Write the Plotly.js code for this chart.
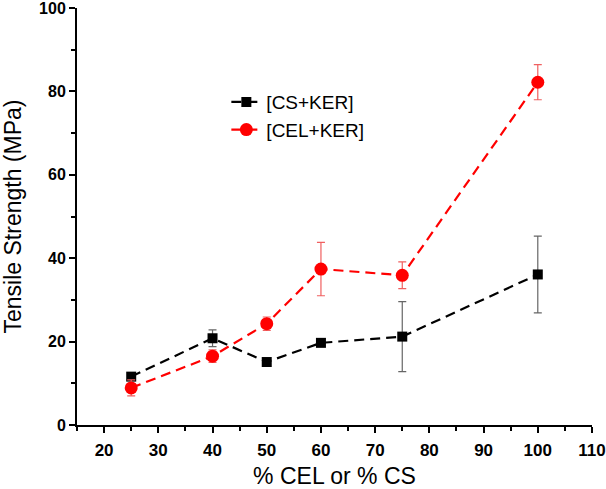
<!DOCTYPE html>
<html><head><meta charset="utf-8">
<script src="https://cdn.plot.ly/plotly-3.0.1.min.js"></script>
<style>body{margin:0;padding:0;background:#fff}#chart{width:606px;height:489px}</style>
</head><body><div id="chart"></div>
<script>
const xVals = [25, 40, 50, 60, 75, 100];
const csKer = [11.6, 20.8, 15.1, 19.7, 21.2, 36.1];
const csKerErr = [0.8, 2.0, 0.5, 0.6, 8.4, 9.2];
const celKer = [8.9, 16.5, 24.3, 37.4, 35.9, 82.2];
const celKerErr = [1.9, 1.5, 1.6, 6.4, 3.2, 4.2];
const seriesNames = ['[CS+KER]', '[CEL+KER]'];
const yTicks = [0, 20, 40, 60, 80, 100];

const traces = [
  {x: xVals, y: csKer, name: seriesNames[0], type: 'scatter', mode: 'lines+markers',
   line: {color: '#000', width: 2.2, dash: '10px,6px'},
   marker: {symbol: 'square', size: 10, color: '#000'},
   error_y: {type: 'data', array: csKerErr, visible: true, color: '#666', thickness: 1.2, width: 4}},
  {x: xVals, y: celKer, name: seriesNames[1], type: 'scatter', mode: 'lines+markers',
   line: {color: '#ff0000', width: 2.2, dash: '10px,6px'},
   marker: {symbol: 'circle', size: 13, color: '#ff0000'},
   error_y: {type: 'data', array: celKerErr, visible: true, color: '#f06060', thickness: 1.2, width: 4}}
];

const layout = {
  width: 606, height: 489,
  margin: {l: 77, r: 14, t: 8, b: 64},
  paper_bgcolor: '#fff', plot_bgcolor: '#fff',
  font: {family: 'Liberation Sans, Arial, sans-serif', color: '#000'},
  showlegend: true,
  legend: {x: 0.29, y: 0.82, xanchor: 'left', yanchor: 'top', bgcolor: 'rgba(0,0,0,0)',
           font: {size: 19, family: 'Liberation Sans, Arial, sans-serif'}, tracegroupgap: 0, itemwidth: 30},
  xaxis: {
    range: [15, 110], showgrid: false, zeroline: false, showline: true, linecolor: '#000', linewidth: 2,
    ticks: 'outside', ticklen: 6, tickwidth: 2, tickcolor: '#000', tick0: 20, dtick: 10,
    minor: {ticks: 'outside', ticklen: 4, tickwidth: 2, tickcolor: '#000', dtick: 5, tick0: 15},
    ticklabelstandoff: 3,
    tickfont: {size: 17, family: 'Liberation Sans, Arial, sans-serif', weight: 'bold'},
    title: {text: '% CEL or % CS', font: {size: 23}, standoff: 8}
  },
  yaxis: {
    range: [0, 100], showgrid: false, zeroline: false, showline: true, linecolor: '#000', linewidth: 2,
    ticks: 'outside', ticklen: 6, tickwidth: 2, tickcolor: '#000',
    tickmode: 'array', tickvals: yTicks, ticktext: yTicks.map(String), ticklabeloverflow: 'allow',
    minor: {ticks: 'outside', ticklen: 4, tickwidth: 2, tickcolor: '#000', dtick: 10, tick0: 0},
    tickfont: {size: 16, family: 'Liberation Sans, Arial, sans-serif', weight: 'bold'},
    title: {text: 'Tensile Strength (MPa)', font: {size: 23}, standoff: 12}
  }
};
Plotly.newPlot('chart', traces, layout, {displayModeBar: false, staticPlot: true});
</script></body></html>
